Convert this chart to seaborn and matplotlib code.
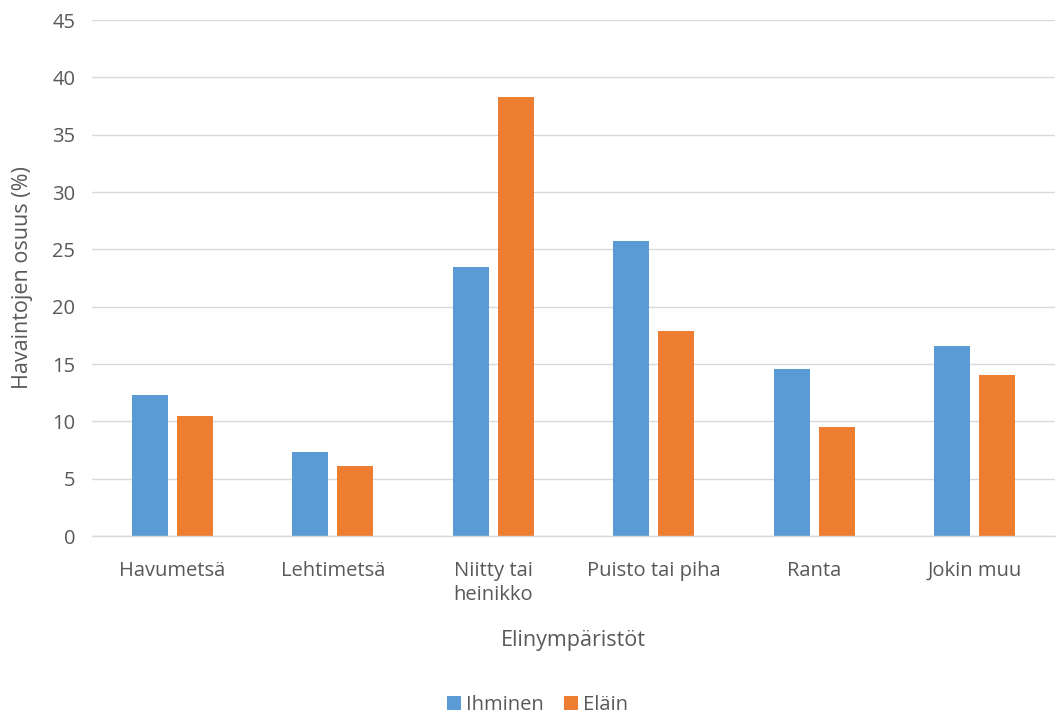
import pandas as pd
import matplotlib.pyplot as plt
import seaborn as sns

# data
categories = ['Havumetsä', 'Lehtimetsä', 'Niitty tai\nheinikko', 'Puisto tai piha', 'Ranta', 'Jokin muu']
ihminen = [12.3, 7.3, 23.5, 25.7, 14.6, 16.6]
elain = [10.5, 6.1, 38.3, 17.9, 9.5, 14.0]
series = ['Ihminen', 'Eläin']
colors = ['#5B9BD5', '#ED7D31']

df = pd.DataFrame({
    'Elinympäristö': categories * 2,
    'Arvo': ihminen + elain,
    'Sarja': [series[0]] * len(categories) + [series[1]] * len(categories),
})

sns.set_theme(style='white')
plt.rcParams['font.family'] = ['Open Sans', 'DejaVu Sans']
text_col = '#595959'

fig = plt.figure(figsize=(10.64, 7.15), dpi=100)
ax = fig.add_axes([0.0865, 0.2503, 0.905, 0.7217])

sns.barplot(data=df, x='Elinympäristö', y='Arvo', hue='Sarja', palette=colors,
            width=0.56, gap=0.2, ax=ax, saturation=1, linewidth=0, legend=True)

ax.set_ylim(0, 45)
ax.set_yticks(range(0, 50, 5))
ax.set_xlim(-0.5, len(categories) - 0.5)
ax.yaxis.grid(True, color='#D9D9D9', linewidth=1)
ax.set_axisbelow(True)
for s in ['top', 'right', 'left']:
    ax.spines[s].set_visible(False)
ax.spines['bottom'].set_color('#D9D9D9')
ax.spines['bottom'].set_linewidth(1)
ax.tick_params(axis='y', length=0, labelsize=14.5, colors=text_col, pad=12)
ax.tick_params(axis='x', length=0, labelsize=14.5, colors=text_col, pad=18)
for lab in ax.get_xticklabels():
    lab.set_verticalalignment('top')
    lab.set_linespacing(1.25)

ax.set_xlabel('Elinympäristöt', fontsize=15.5, color=text_col, labelpad=18)
ax.set_ylabel('Havaintojen osuus (%)', fontsize=15.5, color=text_col, labelpad=14)

handles, labels = ax.get_legend_handles_labels()
ax.legend(handles, labels, loc='center', bbox_to_anchor=(0.463, -0.327), ncol=2,
          frameon=False, fontsize=14.5, handlelength=0.7, handleheight=0.7,
          handletextpad=0.25, columnspacing=1.0, labelcolor=text_col)

fig.savefig('out.png', dpi=100)
